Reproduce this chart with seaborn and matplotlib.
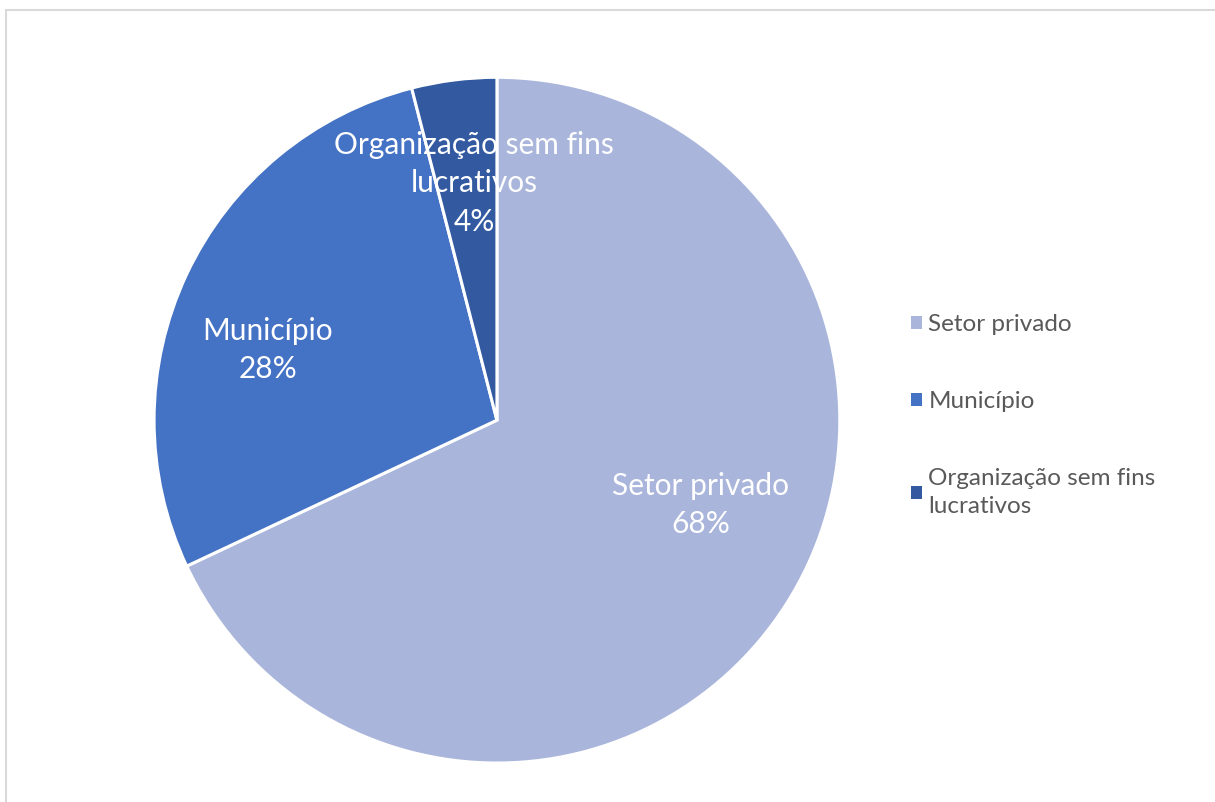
import matplotlib.pyplot as plt
import seaborn as sns
from matplotlib.patches import Rectangle

# dados
categorias = ['Setor privado', 'Município', 'Organização sem fins lucrativos']
rotulos_fatia = ['Setor privado', 'Município', 'Organização sem fins\nlucrativos']
rotulos_legenda = ['Setor privado', 'Município', 'Organização sem fins\nlucrativos']
valores = [68, 28, 4]
cores = ['#A9B5DA', '#4472C4', '#335AA1']

sns.set_theme(style='white')
plt.rcParams['font.family'] = ['Lato', 'DejaVu Sans']

fig = plt.figure(figsize=(12.15, 8.02), dpi=100)
ax = fig.add_axes([0.1267, 0.0486, 0.5646, 0.855])

paleta = sns.color_palette(cores)
it = iter(rotulos_fatia)


def fmt_pct(p):
    return f"{next(it)}\n{p:.0f}%"


wedges, textos, autotextos = ax.pie(
    valores, colors=paleta, startangle=90, counterclock=False,
    autopct=fmt_pct, pctdistance=0.68,
    wedgeprops=dict(edgecolor='white', linewidth=2.2),
    textprops=dict(color='white', fontsize=21.5, linespacing=1.45),
)
ax.set_xlim(-1, 1)
ax.set_ylim(-1, 1)
ax.set_aspect('equal')

# posição dos rótulos parecida com o "melhor ajuste" do Excel
posicoes_rotulo = [(0.595, -0.248), (-0.668, 0.204), (-0.067, 0.691)]
for t, pos in zip(autotextos, posicoes_rotulo):
    t.set_position(pos)

leg = fig.legend(
    wedges, rotulos_legenda, loc='upper left', bbox_to_anchor=(0.732, 0.636),
    frameon=False, fontsize=17.5, handlelength=0.45, handleheight=0.45,
    handletextpad=0.25, labelspacing=2.3, labelcolor='#595959',
)
for h in leg.legend_handles:
    h.set_edgecolor('none')
for t in leg.get_texts():
    t.set_linespacing(1.45)

# moldura clara em volta do gráfico
fig.patches.append(Rectangle((6 / 1215, -0.1), 1.2, (802 - 9.5) / 802 + 0.1,
                             transform=fig.transFigure, fill=False,
                             edgecolor='#D9D9D9', linewidth=1.5))

fig.savefig('out.png', dpi=100, facecolor='white')
